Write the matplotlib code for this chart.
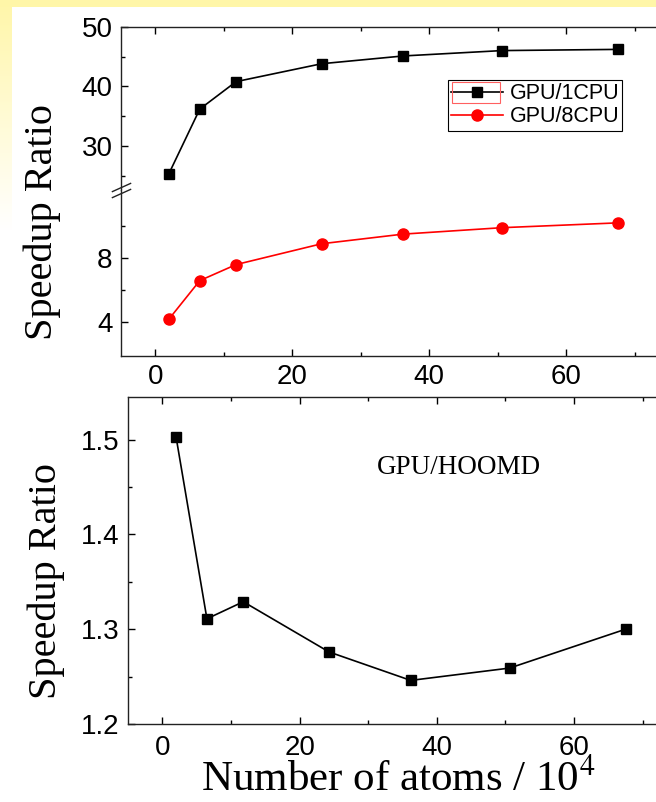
import numpy as np
import matplotlib
matplotlib.use("Agg")
import matplotlib.pyplot as plt
import matplotlib.transforms as mtransforms
from matplotlib.patches import Rectangle

# atoms (x 10^4)
atoms = [2.0, 6.5, 11.8, 24.3, 36.2, 50.6, 67.5]
gpu_1cpu = [25.4, 36.2, 40.8, 43.8, 45.1, 46.0, 46.2]
gpu_8cpu = [4.2, 6.6, 7.6, 8.9, 9.5, 9.9, 10.2]
gpu_hoomd = [1.503, 1.311, 1.329, 1.276, 1.246, 1.259, 1.300]

x_major = [0, 20, 40, 60]
x_minor = [10, 30, 50, 70]

plt.rcParams['font.family'] = ['Liberation Sans', 'DejaVu Sans']
plt.rcParams['mathtext.fontset'] = 'stix'

W, H = 656, 802
fig = plt.figure(figsize=(W / 100, H / 100), dpi=100)
fig.patch.set_facecolor('white')

# slide background: yellow strip on top, fading strip on the left
bg = fig.add_axes([0, 0, 1, 1], zorder=-10)
img = np.ones((H, W, 4))
img[..., 3] = 0.0
yellow = np.array([1.0, 0.965, 0.66])
img[:7, :, :3] = yellow
img[:7, :, 3] = 1.0
fade = np.clip(1 - np.arange(H) / 230.0, 0, 1)
img[7:, :12, :3] = yellow
img[7:, :12, 3] = fade[7:, None]
bg.imshow(img, aspect='auto', extent=(0, W, H, 0))
bg.set_xlim(0, W)
bg.set_ylim(H, 0)
bg.axis('off')


def px(x0, y0, x1, y1):
    return [x0 / W, 1 - y1 / H, (x1 - x0) / W, (y1 - y0) / H]


def style(ax):
    ax.tick_params(which='both', direction='in', labelsize=20, pad=6)
    ax.tick_params(which='major', length=5, width=1)
    ax.tick_params(which='minor', length=3, width=1)
    for s in ax.spines.values():
        s.set_linewidth(1.0)
        s.set_color('#222222')


# ---- top panel: broken y axis ----
ax_up = fig.add_axes(px(121, 26.7, 669, 190))
ax_lo = fig.add_axes(px(121, 190, 669, 356))

l1, = ax_up.plot(atoms, gpu_1cpu, '-s', color='black', lw=1.2, ms=7.5, label='GPU/1CPU')
l2, = ax_lo.plot(atoms, gpu_8cpu, '-o', color='red', lw=1.2, ms=8, label='GPU/8CPU')

for ax in (ax_up, ax_lo):
    style(ax)
    ax.set_xlim(-5, 75)
    ax.set_xticks(x_major)
    ax.set_xticks(x_minor, minor=True)
    ax.spines['right'].set_visible(False)

ax_up.set_ylim(22.65, 50)
ax_up.set_yticks([30, 40, 50])
ax_up.set_yticks([25, 35, 45], minor=True)
ax_up.spines['bottom'].set_visible(False)
ax_up.tick_params(which='both', bottom=False, labelbottom=False, top=True)

ax_lo.set_ylim(1.9, 12.25)
ax_lo.set_yticks([4, 8])
ax_lo.set_yticks([6, 10], minor=True)
ax_lo.spines['top'].set_visible(False)
ax_lo.tick_params(which='both', top=False)

# break marks on the left spine
for ax, yy, dy in ((ax_up, 0, 3), (ax_lo, 1, -3)):
    off = mtransforms.ScaledTranslation(0, dy / 100, fig.dpi_scale_trans)
    ax.plot([0], [yy], marker=[(-1, -0.45), (1, 0.45)], ms=14, ls='none',
            color='#222222', mew=1.0, clip_on=False, transform=ax.transAxes + off)

leg = ax_up.legend(handles=[l1, l2], loc='upper left', bbox_to_anchor=(0.597, 0.674),
                   borderaxespad=0, fontsize=15.5, frameon=True, fancybox=False,
                   edgecolor='black', framealpha=1, handlelength=2.4,
                   handletextpad=0.3, borderpad=0.15, labelspacing=0.1)
leg.get_frame().set_linewidth(0.8)
leg.set_zorder(5)
fig.patches.append(Rectangle((452 / W, 1 - 103 / H), 48 / W, 21 / H, fill=False,
                             ec='#ff6060', lw=0.8, transform=fig.transFigure, zorder=6))

fig.text(42 / W, 1 - 222 / H, 'Speedup Ratio', rotation=90, ha='center', va='center',
         fontsize=29, family='Liberation Serif')

# ---- bottom panel ----
ax2 = fig.add_axes(px(128, 397, 677, 724))
ax2.plot(atoms, gpu_hoomd, '-s', color='black', lw=1.2, ms=7.5)
style(ax2)
ax2.set_xlim(-5, 75)
ax2.set_ylim(1.2, 1.545)
ax2.set_xticks(x_major)
ax2.set_xticks(x_minor, minor=True)
ax2.set_yticks([1.2, 1.3, 1.4, 1.5])
ax2.set_yticks([1.25, 1.35, 1.45], minor=True)
ax2.yaxis.set_major_formatter(matplotlib.ticker.FormatStrFormatter('%.1f'))
ax2.tick_params(which='both', top=True)
ax2.tick_params(axis='x', pad=8)
ax2.spines['right'].set_visible(False)
ax2.text(43.2, 1.4705, 'GPU/HOOMD', ha='center', va='center', fontsize=19.5,
         family='Liberation Serif')

fig.text(46 / W, 1 - 581 / H, 'Speedup Ratio', rotation=90, ha='center', va='center',
         fontsize=29, family='Liberation Serif')
fig.text(398 / W, 1 - 791 / H, r'Number of atoms / 10$^4$', ha='center', va='baseline',
         fontsize=31, family='Liberation Serif')

fig.savefig('out.png', dpi=100)
